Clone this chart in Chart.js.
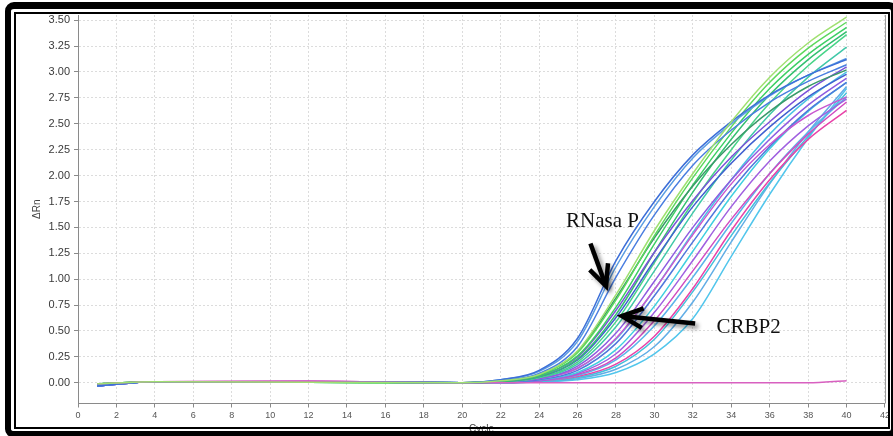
<!DOCTYPE html>
<html>
<head>
<meta charset="utf-8">
<script src="https://cdn.jsdelivr.net/npm/chart.js@4.4.1/dist/chart.umd.min.js"></script>
<style>
  html,body{margin:0;padding:0;background:#fff;overflow:hidden;}
  #wrap{position:relative;width:893px;height:436px;overflow:hidden;}
  #chart{position:absolute;left:0;top:0;}
  .frame{position:absolute;box-sizing:border-box;pointer-events:none;}
  #outer{left:5px;top:2px;right:-5px;bottom:-2px;border:7px solid #000;border-left-width:6px;border-radius:9px;}
  #inner{left:14px;top:12px;width:876px;height:417px;border:2px solid #000;}
</style>
</head>
<body>
<div id="wrap">
  <canvas id="chart" width="893" height="436"></canvas>
  <div class="frame" id="outer"></div>
  <div class="frame" id="inner"></div>
</div>
<script>
// ciclos onde os valores de cada poço foram lidos
const CYCLES = [1, 4, 12, 20, 22, 24, 26, 28, 30, 32, 34, 36, 38, 40];
const X_TICKS = [0, 2, 4, 6, 8, 10, 12, 14, 16, 18, 20, 22, 24, 26, 28, 30, 32, 34, 36, 38, 40, 42];
const Y_TICKS = [0, 0.25, 0.5, 0.75, 1, 1.25, 1.5, 1.75, 2, 2.25, 2.5, 2.75, 3, 3.25, 3.5];

// ΔRn por poço (mesma ordem de CYCLES)
const W01 = [-0.01, 0.01, 0.005, 0.00, 0.02, 0.08, 0.31, 0.85, 1.47, 2.02, 2.52, 2.95, 3.28, 3.53];
const NTC = [-0.01, 0.01, 0.01, 0.00, 0.00, 0.00, 0.00, 0.00, 0.00, 0.00, 0.00, 0.00, 0.00, 0.02];
const W02 = [-0.03, 0.01, 0.01, 0.00, 0.03, 0.12, 0.43, 1.18, 1.75, 2.20, 2.52, 2.78, 2.97, 3.12];
const W03 = [-0.03, 0.01, 0.01, 0.00, 0.03, 0.11, 0.40, 1.12, 1.70, 2.17, 2.50, 2.77, 2.97, 3.13];
const W04 = [-0.02, 0.01, 0.01, 0.00, 0.02, 0.09, 0.35, 1.02, 1.62, 2.10, 2.44, 2.71, 2.91, 3.07];
const W05 = [-0.01, 0.01, 0.005, 0.00, 0.02, 0.08, 0.29, 0.80, 1.42, 1.98, 2.47, 2.90, 3.23, 3.48];
const W06 = [-0.02, 0.01, 0.01, 0.00, 0.02, 0.08, 0.30, 0.82, 1.40, 1.90, 2.30, 2.62, 2.86, 3.02];
const W07 = [-0.01, 0.01, 0.005, 0.00, 0.02, 0.07, 0.26, 0.73, 1.34, 1.91, 2.41, 2.84, 3.17, 3.43];
const W08 = [-0.03, 0.01, 0.01, 0.00, 0.02, 0.07, 0.25, 0.70, 1.26, 1.76, 2.18, 2.52, 2.82, 3.05];
const W09 = [-0.01, 0.01, 0.005, 0.00, 0.01, 0.06, 0.23, 0.66, 1.26, 1.84, 2.35, 2.78, 3.12, 3.39];
const W10 = [-0.03, 0.01, 0.01, 0.00, 0.01, 0.06, 0.22, 0.63, 1.18, 1.70, 2.12, 2.47, 2.76, 2.98];
const W11 = [-0.01, 0.01, 0.005, 0.00, 0.01, 0.05, 0.20, 0.59, 1.16, 1.74, 2.25, 2.70, 3.06, 3.36];
const W12 = [-0.01, 0.01, 0.005, 0.00, 0.01, 0.05, 0.18, 0.54, 1.08, 1.64, 2.15, 2.59, 2.95, 3.24];
const W13 = [-0.03, 0.01, 0.01, 0.00, 0.01, 0.04, 0.16, 0.48, 0.98, 1.50, 1.96, 2.35, 2.68, 2.94];
const W14 = [-0.02, 0.01, 0.015, 0.00, 0.01, 0.04, 0.14, 0.43, 0.90, 1.43, 1.92, 2.30, 2.58, 2.76];
const W15 = [-0.02, 0.01, 0.01, 0.00, 0.01, 0.04, 0.14, 0.42, 0.90, 1.45, 1.96, 2.40, 2.74, 3.00];
const W16 = [-0.03, 0.01, 0.01, 0.00, 0.01, 0.03, 0.12, 0.38, 0.84, 1.36, 1.86, 2.28, 2.63, 2.90];
const W17 = [-0.02, 0.01, 0.01, 0.00, 0.00, 0.03, 0.10, 0.32, 0.74, 1.27, 1.80, 2.26, 2.62, 2.90];
const W18 = [-0.03, 0.01, 0.01, 0.00, 0.00, 0.02, 0.09, 0.28, 0.68, 1.18, 1.70, 2.14, 2.48, 2.74];
const W19 = [-0.02, 0.01, 0.015, 0.00, 0.00, 0.02, 0.08, 0.24, 0.60, 1.08, 1.58, 2.02, 2.40, 2.71];
const W20 = [-0.02, 0.01, 0.01, 0.00, 0.00, 0.02, 0.07, 0.22, 0.55, 1.02, 1.54, 2.02, 2.42, 2.76];
const W21 = [-0.02, 0.01, 0.015, 0.00, 0.00, 0.02, 0.06, 0.18, 0.45, 0.91, 1.47, 1.96, 2.35, 2.63];
const W22 = [-0.02, 0.01, 0.01, 0.00, 0.00, 0.01, 0.05, 0.16, 0.42, 0.88, 1.42, 1.93, 2.38, 2.80];
const W23 = [-0.02, 0.01, 0.01, 0.00, 0.00, 0.01, 0.04, 0.13, 0.35, 0.78, 1.36, 1.92, 2.42, 2.86];
const W24 = [-0.02, 0.01, 0.01, 0.00, 0.00, 0.01, 0.03, 0.10, 0.28, 0.62, 1.22, 1.82, 2.36, 2.84];

// o primeiro da lista fica por cima
const WELLS  = ['W01','NTC','W02','W03','W04','W05','W06','W07','W08','W09','W10','W11','W12',
                'W13','W14','W15','W16','W17','W18','W19','W20','W21','W22','W23','W24'];
const SERIES = [W01, NTC, W02, W03, W04, W05, W06, W07, W08, W09, W10, W11, W12,
                W13, W14, W15, W16, W17, W18, W19, W20, W21, W22, W23, W24];
const COLORS = ['#9fe070','#d860c0','#3d6fd8','#5b9de2','#4a7ee0','#5cd85c','#3a9a6a','#3ccf64',
                '#7b52d9','#34c070','#4060d0','#48d488','#40c8a8','#8e5ce0','#c858d0','#4cc4e4',
                '#5078dc','#40cfe0','#a060e0','#d04cc0','#5ab4ea','#e844a8','#46c0dc','#62aee6','#52c6ec'];

// anotações (em unidades de ciclo / ΔRn)
const SETAS = [
  { texto: 'RNasa P', pos: [25.4, 1.505], de: [26.67, 1.345], ate: [27.48, 0.933] },
  { texto: 'CRBP2',   pos: [33.23, 0.48], de: [32.12, 0.573], ate: [28.31, 0.644] }
];

const extras = {
  id: 'extras',
  afterDatasetsDraw(chart){
    const {ctx, chartArea:a, scales:{x, y}} = chart;
    ctx.save();
    // borda direita da área do gráfico
    ctx.strokeStyle = '#9a9a9a'; ctx.lineWidth = 1;
    ctx.beginPath(); ctx.moveTo(a.right + 0.5, a.top); ctx.lineTo(a.right + 0.5, a.bottom); ctx.stroke();

    SETAS.forEach(s=>{
      const x0 = x.getPixelForValue(s.de[0]), y0 = y.getPixelForValue(s.de[1]);
      const x1 = x.getPixelForValue(s.ate[0]), y1 = y.getPixelForValue(s.ate[1]);
      const back = Math.atan2(y0 - y1, x0 - x1);
      const len = 23, ab = 25 * Math.PI / 180;
      ctx.save();
      ctx.shadowColor = 'rgba(0,0,0,0.45)'; ctx.shadowBlur = 4;
      ctx.shadowOffsetX = 3; ctx.shadowOffsetY = 3;
      ctx.strokeStyle = '#000'; ctx.lineWidth = 4.5; ctx.lineJoin = 'miter'; ctx.lineCap = 'butt';
      ctx.beginPath(); ctx.moveTo(x0, y0); ctx.lineTo(x1, y1); ctx.stroke();
      ctx.beginPath();
      ctx.moveTo(x1 + len*Math.cos(back - ab), y1 + len*Math.sin(back - ab));
      ctx.lineTo(x1, y1);
      ctx.lineTo(x1 + len*Math.cos(back + ab), y1 + len*Math.sin(back + ab));
      ctx.stroke();
      ctx.restore();

      ctx.fillStyle = '#111';
      ctx.font = '21px "Liberation Serif"';
      ctx.textAlign = 'left'; ctx.textBaseline = 'alphabetic';
      ctx.fillText(s.texto, x.getPixelForValue(s.pos[0]), y.getPixelForValue(s.pos[1]));
    });
    ctx.restore();
  }
};

const datasets = SERIES.map((vals, i)=>({
  label: WELLS[i],
  data: CYCLES.map((c, j)=>({ x: c, y: vals[j] })),
  borderColor: COLORS[i],
  borderWidth: 1.5,
  pointRadius: 0,
  fill: false,
  cubicInterpolationMode: 'monotone'
}));

new Chart(document.getElementById('chart'), {
  type: 'line',
  data: { datasets },
  options: {
    responsive: false,
    animation: false,
    layout: { padding: { left: 20, top: 15, right: 6, bottom: 0 } },
    plugins: { legend: { display: false }, tooltip: { enabled: false } },
    scales: {
      x: {
        type: 'linear', min: 0, max: 42,
        afterBuildTicks: s => { s.ticks = X_TICKS.map(v=>({ value: v })); },
        afterFit: s => { s.height = 32.5; },
        ticks: { color: '#555', font: { family: 'Liberation Sans', size: 9 }, padding: 3, maxRotation: 0, autoSkip: false, callback: v => String(v) },
        grid: { color: '#dcdcdc', tickColor: '#8a8a8a', tickLength: 4 },
        border: { color: '#8a8a8a', dash: [2, 2] },
        title: { display: true, text: 'Cycle', color: '#444', font: { family: 'Liberation Sans', size: 10 }, padding: { top: 0, bottom: 1 } }
      },
      y: {
        type: 'linear', min: -0.2, max: 3.55,
        afterBuildTicks: s => { s.ticks = Y_TICKS.map(v=>({ value: v })); },
        afterFit: s => { s.width = 58; },
        ticks: { color: '#3a3a3a', font: { family: 'Liberation Sans', size: 11 }, padding: 4, autoSkip: false, callback: v => v.toFixed(2) },
        grid: { color: '#dcdcdc', tickColor: '#8a8a8a', tickLength: 4 },
        border: { color: '#8a8a8a', dash: [2, 2] },
        title: { display: true, text: 'ΔRn', color: '#444', font: { family: 'Liberation Sans', size: 10 }, padding: { top: 11, bottom: 0 } }
      }
    }
  },
  plugins: [extras]
});
</script>
</body>
</html>
